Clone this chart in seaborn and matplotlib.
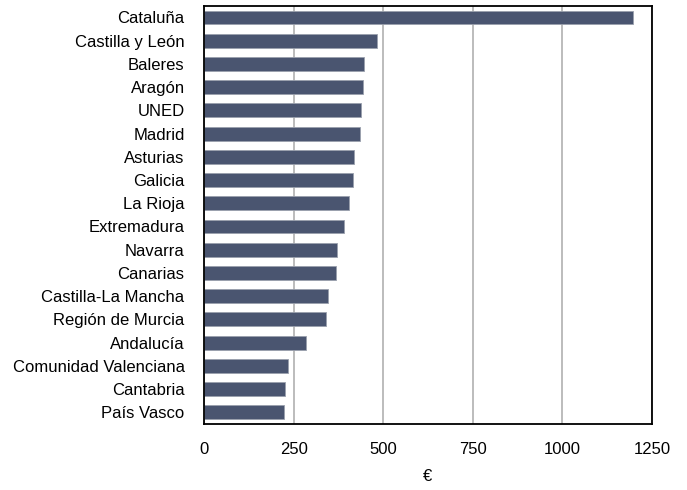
import matplotlib
matplotlib.use("Agg")
import matplotlib.pyplot as plt
import seaborn as sns
import pandas as pd
import numpy as np
from matplotlib.ticker import FixedLocator

regions = ["Cataluña", "Castilla y León", "Baleres", "Aragón", "UNED", "Madrid",
           "Asturias", "Galicia", "La Rioja", "Extremadura", "Navarra", "Canarias",
           "Castilla-La Mancha", "Región de Murcia", "Andalucía",
           "Comunidad Valenciana", "Cantabria", "País Vasco"]
values = [1198, 482, 447, 443, 439, 436, 418, 416, 405, 391, 370, 369,
          346, 340, 285, 235, 225, 223]
x_ticks = [0, 250, 500, 750, 1000, 1250]

sns.set_style("white")
plt.rcParams['font.family'] = ['Liberation Sans', 'DejaVu Sans']
plt.rcParams['text.color'] = 'black'
plt.rcParams['xtick.color'] = 'black'
plt.rcParams['ytick.color'] = 'black'
plt.rcParams['axes.labelcolor'] = 'black'

df = pd.DataFrame({"region": regions, "value": values})

fig = plt.figure(figsize=(6.87, 4.90), dpi=100)
ax = fig.add_axes([0.297, 0.135, 0.652, 0.853])

sns.barplot(data=df, x="value", y="region", ax=ax, color="#4a5570",
            edgecolor="#9aa0ad", linewidth=0.6, width=0.6, saturation=1)

ax.set_xlim(0, 1250)
ax.set_ylim(len(regions) - 0.5, -0.5)
ax.set_xticks(x_ticks)
ax.set_xticklabels([str(t) for t in x_ticks], fontsize=12)
ax.tick_params(axis='y', which='major', length=0, labelsize=12, pad=14, labelcolor='black')
ax.yaxis.set_minor_locator(FixedLocator(np.arange(0.5, len(regions) - 0.5, 1)))
ax.tick_params(axis='y', which='minor', direction='in', length=3, width=1, color='black')
ax.tick_params(axis='x', which='major', direction='out', length=4, width=1, color='black',
               pad=9, labelcolor='black')
ax.set_axisbelow(True)
ax.xaxis.grid(True, color="#b0b0b0", linewidth=1.2)
ax.yaxis.grid(False)
for s in ax.spines.values():
    s.set_visible(True)
    s.set_color("black")
    s.set_linewidth(1.3)
ax.set_ylabel("")
ax.set_xlabel("€", fontsize=12, labelpad=9, color='black')

fig.savefig("out.png", dpi=100)
